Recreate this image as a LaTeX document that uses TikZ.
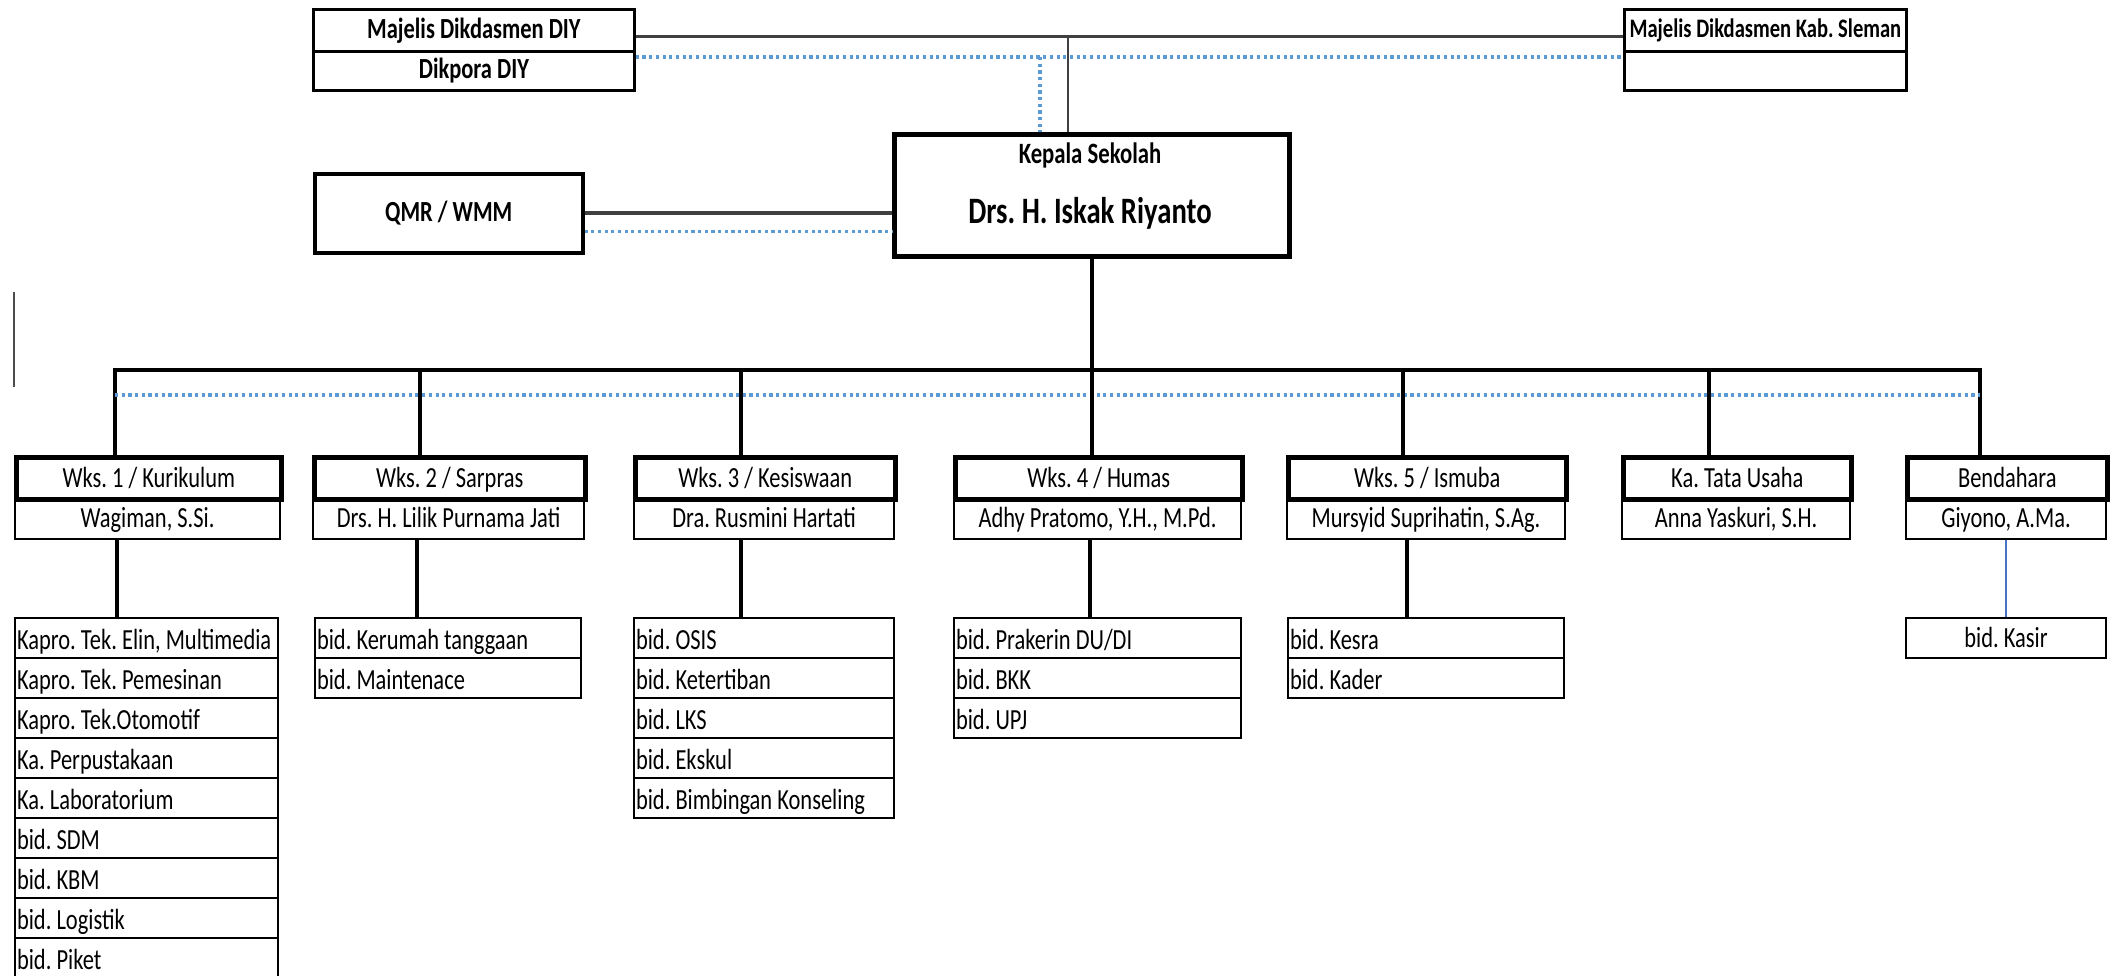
\documentclass[tikz,border=0pt]{standalone}
\usepackage{fontspec}
\setmainfont{Carlito}[FakeStretch=0.77]
\usepackage{xcolor}
\usetikzlibrary{positioning}
\frenchspacing

\definecolor{dotblue}{RGB}{91,155,213}
\definecolor{lineblue}{RGB}{68,114,196}

\begin{document}
\begin{tikzpicture}[
    every node/.style={font=\fontsize{8.3}{9}\selectfont, inner sep=0pt},
    topbox/.style={draw, line width=0.8pt, anchor=north west, font=\fontsize{8.3}{9}\selectfont\bfseries},
    headbox/.style={draw, line width=1.3pt, anchor=north west, minimum height=0.42cm, text height=5.3pt, text depth=0pt},
    namebox/.style={draw, line width=0.6pt, anchor=north west, minimum height=0.41cm, text height=5.3pt, text depth=0pt},
    listbox/.style={draw, line width=0.6pt, anchor=north west, minimum height=0.40cm, text width=#1, align=flush left, inner xsep=0.02cm, text height=6.5pt, text depth=0pt},
    bus/.style={line width=1.4pt},
    drop/.style={line width=1.1pt},
    dotline/.style={dotblue, densely dotted, line width=0.9pt},
    greyline/.style={black!75, line width=0.7pt}
]
    \useasboundingbox (0,0) rectangle (21.12,-9.76);

    \node[topbox, minimum width=3.21cm, minimum height=0.42cm] (mdiy) at (3.12,-0.08) {Majelis Dikdasmen DIY};
    \node[topbox, minimum width=3.21cm, minimum height=0.39cm] (dikpora) at (3.12,-0.50) {Dikpora DIY};
    \node[topbox, minimum width=2.82cm, minimum height=0.42cm, font=\fontsize{7.6}{8}\selectfont\bfseries] (msleman) at (16.23,-0.08) {Majelis Dikdasmen Kab. Sleman};
    \node[topbox, minimum width=2.82cm, minimum height=0.39cm] (sleman2) at (16.23,-0.50) {};
    \node[topbox, line width=1pt, minimum width=2.68cm, minimum height=0.79cm] (qmr) at (3.13,-1.72) {QMR / WMM};

    \node[draw, line width=1.5pt, anchor=north west, minimum width=3.95cm, minimum height=1.22cm] (kepala) at (8.92,-1.32) {};
    \node[font=\fontsize{8.4}{9}\selectfont\bfseries] (kstitle) at (10.90,-1.55) {Kepala Sekolah};
    \node[font=\fontsize{10.6}{11}\selectfont\bfseries] (ksname) at (10.90,-2.13) {Drs. H. Iskak Riyanto};

    \draw[greyline] ([yshift=-0.06cm]mdiy.east) -- ([yshift=-0.06cm]msleman.west);
    \draw[dotline] ([yshift=-0.07cm]dikpora.north east) -- ([yshift=-0.07cm]sleman2.north west);
    \coordinate (ksjoin) at (10.68,-0.35);
    \coordinate (ksdot) at (10.40,-0.57);
    \draw[greyline] (ksjoin) -- (ksjoin |- kepala.north);
    \draw[dotline] (ksdot) -- (ksdot |- kepala.north);
    \draw[greyline, line width=1pt] (qmr.east) -- (qmr.east -| kepala.west);
    \coordinate (qmrdot) at ([yshift=-0.18cm]qmr.east);
    \draw[dotline] (qmrdot) -- (qmrdot -| kepala.west);

    \draw[black!70, line width=0.5pt] (0.14,-2.92) -- (0.14,-3.87);

    \node[headbox, minimum width=2.65cm] (wks1) at (0.14,-4.55) {Wks. 1 / Kurikulum};
    \node[namebox, minimum width=2.65cm] (nm1) at (0.14,-4.97) {Wagiman, S.Si.};
    \node[headbox, minimum width=2.71cm] (wks2) at (3.12,-4.55) {Wks. 2 / Sarpras};
    \node[namebox, minimum width=2.71cm] (nm2) at (3.12,-4.97) {Drs. H. Lilik Purnama Jati};
    \node[headbox, minimum width=2.60cm] (wks3) at (6.33,-4.55) {Wks. 3 / Kesiswaan};
    \node[namebox, minimum width=2.60cm] (nm3) at (6.33,-4.97) {Dra. Rusmini Hartati};
    \node[headbox, minimum width=2.87cm] (wks4) at (9.53,-4.55) {Wks. 4 / Humas};
    \node[namebox, minimum width=2.87cm] (nm4) at (9.53,-4.97) {Adhy Pratomo, Y.H., M.Pd.};
    \node[headbox, minimum width=2.78cm] (wks5) at (12.86,-4.55) {Wks. 5 / Ismuba};
    \node[namebox, minimum width=2.78cm] (nm5) at (12.86,-4.97) {Mursyid Suprihatin, S.Ag.};
    \node[headbox, minimum width=2.28cm] (katu) at (16.21,-4.55) {Ka. Tata Usaha};
    \node[namebox, minimum width=2.28cm] (nm6) at (16.21,-4.97) {Anna Yaskuri, S.H.};
    \node[headbox, minimum width=2.00cm] (bnd) at (19.05,-4.55) {Bendahara};
    \node[namebox, minimum width=2.00cm] (nm7) at (19.05,-4.97) {Giyono, A.Ma.};

    \coordinate (bus1) at (1.15,-3.70);
    \coordinate (bus2) at (4.20,-3.70);
    \coordinate (bus3) at (7.41,-3.70);
    \coordinate (bus5) at (14.03,-3.70);
    \coordinate (bus6) at (17.09,-3.70);
    \coordinate (bus7) at (19.80,-3.70);
    \draw[bus] (bus1 |- wks1.north) -- (bus1) -- (bus7) -- (bus7 |- bnd.north);
    \draw[dotline] ([yshift=-0.25cm]bus1) -- ([yshift=-0.25cm]bus7);
    \draw[drop] (kepala.south) -- (kepala.south |- wks4.north);
    \draw[drop] (bus2) -- (bus2 |- wks2.north);
    \draw[drop] (bus3) -- (bus3 |- wks3.north);
    \draw[drop] (bus5) -- (bus5 |- wks5.north);
    \draw[drop] (bus6) -- (bus6 |- katu.north);

    \node[listbox=2.59cm] (kur1) at (0.14,-6.17) {\mbox{Kapro. Tek. Elin, Multimedia}};
    \node[listbox=2.59cm] (kur2) at (0.14,-6.57) {Kapro. Tek. Pemesinan};
    \node[listbox=2.59cm] (kur3) at (0.14,-6.97) {Kapro. Tek.Otomotif};
    \node[listbox=2.59cm] (kur4) at (0.14,-7.37) {Ka. Perpustakaan};
    \node[listbox=2.59cm] (kur5) at (0.14,-7.77) {Ka. Laboratorium};
    \node[listbox=2.59cm] (kur6) at (0.14,-8.17) {bid. SDM};
    \node[listbox=2.59cm] (kur7) at (0.14,-8.57) {bid. KBM};
    \node[listbox=2.59cm] (kur8) at (0.14,-8.97) {bid. Logistik};
    \node[listbox=2.59cm] (kur9) at (0.14,-9.37) {bid. Piket};

    \node[listbox=2.62cm] (sar1) at (3.14,-6.17) {bid. Kerumah tanggaan};
    \node[listbox=2.62cm] (sar2) at (3.14,-6.57) {bid. Maintenace};

    \node[listbox=2.56cm] (kes1) at (6.33,-6.17) {bid. OSIS};
    \node[listbox=2.56cm] (kes2) at (6.33,-6.57) {bid. Ketertiban};
    \node[listbox=2.56cm] (kes3) at (6.33,-6.97) {bid. LKS};
    \node[listbox=2.56cm] (kes4) at (6.33,-7.37) {bid. Ekskul};
    \node[listbox=2.56cm] (kes5) at (6.33,-7.77) {bid. Bimbingan Konseling};

    \node[listbox=2.83cm] (hum1) at (9.53,-6.17) {bid. Prakerin DU/DI};
    \node[listbox=2.83cm] (hum2) at (9.53,-6.57) {bid. BKK};
    \node[listbox=2.83cm] (hum3) at (9.53,-6.97) {bid. UPJ};

    \node[listbox=2.72cm] (ism1) at (12.87,-6.17) {bid. Kesra};
    \node[listbox=2.72cm] (ism2) at (12.87,-6.57) {bid. Kader};

    \node[namebox, minimum width=2.00cm, minimum height=0.40cm] (kasir) at (19.05,-6.17) {bid. Kasir};

    \coordinate (sub1) at (1.17,-5.38);
    \coordinate (sub2) at (4.17,-5.38);
    \coordinate (sub3) at (7.41,-5.38);
    \coordinate (sub4) at (10.90,-5.38);
    \coordinate (sub5) at (14.07,-5.38);
    \draw[drop] (sub1) -- (sub1 |- kur1.north);
    \draw[drop] (sub2) -- (sub2 |- sar1.north);
    \draw[drop] (sub3) -- (sub3 |- kes1.north);
    \draw[drop] (sub4) -- (sub4 |- hum1.north);
    \draw[drop] (sub5) -- (sub5 |- ism1.north);
    \draw[lineblue, line width=0.6pt] (nm7.south) -- (kasir.north);
\end{tikzpicture}
\end{document}
